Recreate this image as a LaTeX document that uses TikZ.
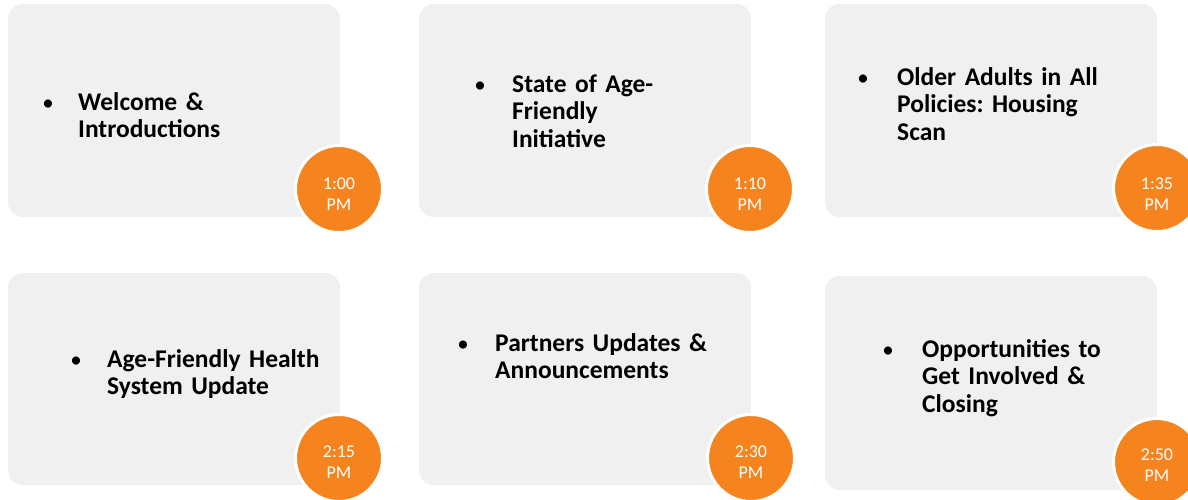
\documentclass[tikz,border=0pt]{standalone}
\usepackage{fontspec}
\setmainfont{Carlito}
\frenchspacing
\definecolor{boxgray}{HTML}{F0F0F0}
\definecolor{dotorange}{HTML}{F5841F}
\begin{document}
\begin{tikzpicture}[x=1pt,y=-1pt,
  card/.style={fill=boxgray, rounded corners=15pt},
  timedot/.style={circle, fill=dotorange, draw=white, line width=3pt, minimum size=87pt, inner sep=0pt},
  timetxt/.style={text=white, font=\fontsize{18}{21}\selectfont, text width=60pt, align=center, anchor=base, inner sep=0pt},
  itemtxt/.style={font=\bfseries\fontsize{25.5}{27.5}\selectfont, text width=280pt, align=left, anchor=base west, inner sep=0pt},
  bulletdot/.style={font=\fontsize{23}{27.5}\selectfont, anchor=base, inner sep=0pt}]
\clip (0,0) rectangle (1188,499);
\fill[white] (0,0) rectangle (1188,499);
% cards
\fill[card] (8,4) rectangle (340,217);
\fill[card] (419,4) rectangle (751,217);
\fill[card] (825,4) rectangle (1157,217);
\fill[card] (8,273) rectangle (340,485);
\fill[card] (419,273) rectangle (751,485);
\fill[card] (825,276) rectangle (1157,490);
% items
\node[bulletdot] (b1) at (48,110) {•};
\node[itemtxt] (i1) at (78,110) {Welcome \&\\Introductions};
\node[bulletdot] (b2) at (480,92) {•};
\node[itemtxt] (i2) at (512,92) {State of Age-\\Friendly\\Initiative};
\node[bulletdot] (b3) at (863,85) {•};
\node[itemtxt] (i3) at (897,85) {Older Adults in All\\Policies: Housing\\Scan};
\node[bulletdot] (b4) at (76,367) {•};
\node[itemtxt] (i4) at (107,367) {Age-Friendly Health\\System Update};
\node[bulletdot] (b5) at (463,351) {•};
\node[itemtxt] (i5) at (495,351) {Partners Updates \&\\Announcements};
\node[bulletdot] (b6) at (888,357) {•};
\node[itemtxt] (i6) at (922,357) {Opportunities to\\Get Involved \&\\Closing};
% time dots
\node[timedot] (c1) at (339,189) {};
\node[timedot] (c2) at (750,189) {};
\node[timedot] (c3) at (1157,188) {};
\node[timedot] (c4) at (339,458) {};
\node[timedot] (c5) at (751,458) {};
\node[timedot] (c6) at (1157,462) {};
\node[timetxt] (t1) at (339,189) {1:00\\PM};
\node[timetxt] (t2) at (750,189) {1:10\\PM};
\node[timetxt] (t3) at (1157,189) {1:35\\PM};
\node[timetxt] (t4) at (339,457) {2:15\\PM};
\node[timetxt] (t5) at (751,457) {2:30\\PM};
\node[timetxt] (t6) at (1157,460) {2:50\\PM};
\end{tikzpicture}
\end{document}
